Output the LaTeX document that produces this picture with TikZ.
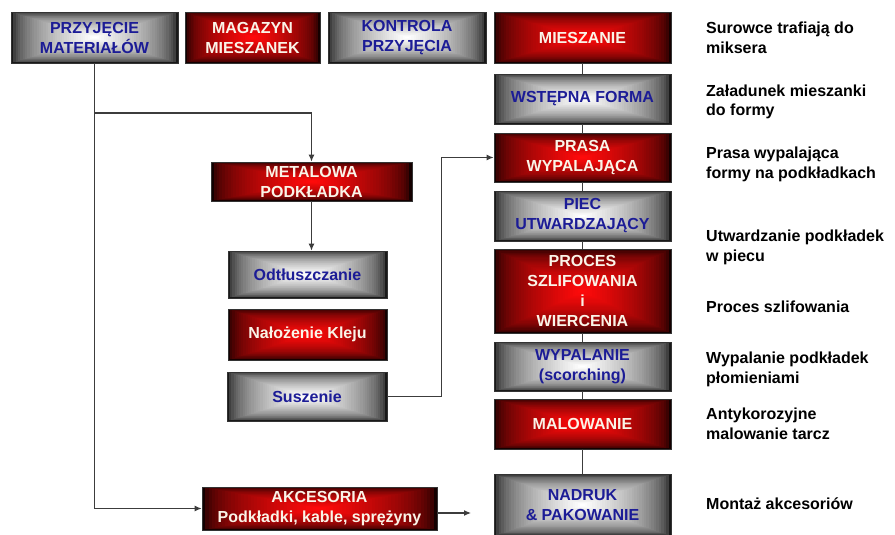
\documentclass[tikz,border=0pt]{standalone}
\usepackage{fontspec}
\setmainfont{Liberation Sans}
\newfontfamily\lsans{Liberation Sans}
\usetikzlibrary{calc,arrows.meta}
\definecolor{navyb}{RGB}{28,28,150}
\definecolor{cream}{RGB}{250,244,232}
\definecolor{linec}{RGB}{60,60,60}
\definecolor{brightred}{RGB}{255,10,10}
\definecolor{edgered}{RGB}{20,0,0}
\definecolor{edgegray}{RGB}{25,25,25}
\tikzset{
  grad/.style 2 args={path picture={
    \foreach \i in {0,...,35}{
      \pgfmathsetmacro\s{1-\i/36}
      \pgfmathsetmacro\p{100*sqrt(\i/35)}
      \fill[#1!\p!#2] ($(path picture bounding box.center)!\s!(path picture bounding box.south west)$) rectangle ($(path picture bounding box.center)!\s!(path picture bounding box.north east)$);
    }}},
  box/.style={draw=black!80, line width=0.8pt, inner sep=0pt, align=center,
    font=\lsans\bfseries\fontsize{16}{20}\selectfont},
  redbox/.style={box, grad={brightred}{edgered}, text=cream},
  graybox/.style={box, grad={white}{edgegray}, text=navyb},
  desc/.style={anchor=base west, inner sep=0pt, align=left,
    font=\lsans\bfseries\fontsize{16}{20}\selectfont, text=black},
  conn/.style={draw=linec, line width=1.1pt},
  arr/.style={conn, -{Latex[length=7pt,width=6pt]}},
}
\begin{document}
\begin{tikzpicture}[x=1pt,y=-1pt]
\useasboundingbox (0,0) rectangle (895,535);
% top row
\node[graybox, minimum width=167pt, minimum height=51pt] (pm) at (94.5,37.5) {PRZYJĘCIE\\MATERIAŁÓW};
\node[redbox, minimum width=135pt, minimum height=51pt] (mm) at (252.5,37.5) {MAGAZYN\\MIESZANEK};
\node[graybox, minimum width=158pt, minimum height=51pt] (kp) at (407,37.5) {KONTROLA\\PRZYJĘCIA};
% right column
\node[redbox, minimum width=177pt, minimum height=51pt] (mix) at (582.5,37.5) {MIESZANIE};
\node[graybox, minimum width=177pt, minimum height=50pt] (wf) at (582.5,99) {WSTĘPNA FORMA};
\node[redbox, minimum width=177pt, minimum height=49pt] (pw) at (582.5,157.5) {PRASA\\WYPALAJĄCA};
\node[graybox, minimum width=177pt, minimum height=50pt] (pu) at (582.5,216) {PIEC\\UTWARDZAJĄCY};
\node[redbox, minimum width=177pt, minimum height=84pt] (ps) at (582.5,291) {PROCES\\SZLIFOWANIA\\i\\WIERCENIA};
\node[graybox, minimum width=177pt, minimum height=49pt] (wy) at (582.5,366.5) {WYPALANIE\\(scorching)};
\node[redbox, minimum width=177pt, minimum height=50pt] (ml) at (582.5,424) {MALOWANIE};
\node[graybox, minimum width=177pt, minimum height=62pt] (nd) at (582.5,505) {NADRUK\\\& PAKOWANIE};
% left column
\node[redbox, minimum width=201pt, minimum height=39pt] (met) at (311.5,181.5) {METALOWA\\PODKŁADKA};
\node[graybox, minimum width=159pt, minimum height=47pt] (odt) at (307.5,274.5) {Odtłuszczanie};
\node[redbox, minimum width=159pt, minimum height=51pt] (nk) at (307.5,334.5) {Nałożenie Kleju};
\node[graybox, minimum width=160pt, minimum height=49pt] (sus) at (307,396.5) {Suszenie};
\node[redbox, minimum width=235pt, minimum height=43pt] (ak) at (319.5,508.5) {AKCESORIA\\Podkładki, kable, sprężyny};
% descriptions (anchor = baseline of last line)
\node[desc] (d1) at (706,54) {Surowce trafiają do\\miksera};
\node[desc] (d2) at (706,116) {Załadunek mieszanki\\do formy};
\node[desc] (d3) at (706,178) {Prasa wypalająca\\formy na podkładkach};
\node[desc] (d4) at (706,261) {Utwardzanie podkładek\\w piecu};
\node[desc] (d5) at (706,312) {Proces szlifowania};
\node[desc] (d6) at (706,383) {Wypalanie podkładek\\płomieniami};
\node[desc] (d7) at (706,439) {Antykorozyjne\\malowanie tarcz};
\node[desc] (d8) at (706,509) {Montaż akcesoriów};
% connectors
\coordinate (j1) at (pm.south |- 0,113);
\coordinate (akend) at (471,513);
\draw[arr] (pm.south) |- (ak.west);
\draw[arr] (j1) -| (met.north);
\draw[arr] (met.south) -- (met.south |- odt.north);
\draw[arr] (sus.east) -- ++(54,0) |- (pw.west);
\draw[arr] (ak.east |- akend) -- (akend);
\draw[conn] (mix.south) -- (wf.north);
\draw[conn] (wf.south) -- (pw.north);
\draw[conn] (pw.south) -- (pu.north);
\draw[conn] (pu.south) -- (ps.north);
\draw[conn] (ps.south) -- (wy.north);
\draw[conn] (wy.south) -- (ml.north);
\draw[conn] (ml.south) -- (nd.north);
\end{tikzpicture}
\end{document}
